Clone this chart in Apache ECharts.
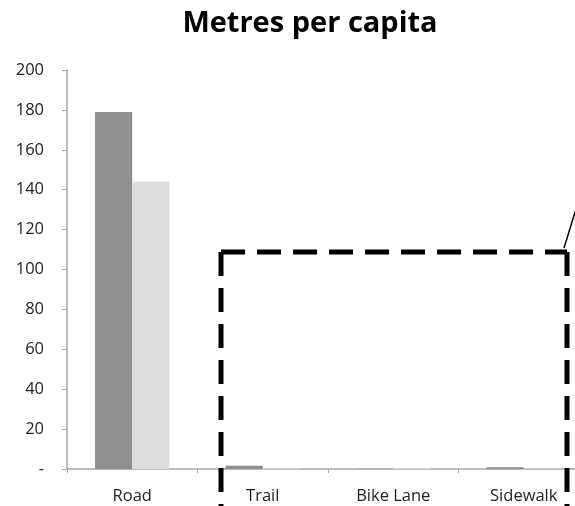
<!DOCTYPE html>
<html><head><meta charset="utf-8">
<script src="https://cdn.jsdelivr.net/npm/echarts@6/dist/echarts.min.js"></script>
<style>html,body{margin:0;padding:0;background:#fff}#c{width:575px;height:506px}</style>
</head><body><div id="c"></div>
<script>
const categories = ['Road', 'Trail', 'Bike Lane', 'Sidewalk'];
const seriesA = [179, 1.6, 0.1, 0.9];
const seriesB = [144, 0.4, 0.5, 0.3];
const yTicks = [0, 20, 40, 60, 80, 100, 120, 140, 160, 180, 200];

const chart = echarts.init(document.getElementById('c'));
const dash = { stroke: '#000', lineWidth: 5, lineDash: [24, 12] };
chart.setOption({
  animation: false,
  title: { text: 'Metres per capita', left: 305, top: 4, textAlign: 'center',
    textStyle: { fontFamily: 'Open Sans', fontWeight: 'bold', fontSize: 29, color: '#000' } },
  grid: { left: 67, width: 522, top: 70, bottom: 37, containLabel: false, outerBoundsMode: 'none' },
  xAxis: { type: 'category', data: categories,
    axisLine: { lineStyle: { color: '#a6a6a6', width: 1.5 } },
    axisTick: { show: true, length: 4, lineStyle: { color: '#a6a6a6' } },
    axisLabel: { color: '#222', fontFamily: 'Open Sans', fontSize: 16.5, margin: 19 } },
  yAxis: { type: 'value', min: 0, max: 200, interval: 20,
    splitLine: { show: false },
    axisLine: { show: true, lineStyle: { color: '#a6a6a6', width: 1.5 } },
    axisTick: { show: true, length: 5, lineStyle: { color: '#a6a6a6' } },
    axisLabel: { color: '#222', fontFamily: 'Open Sans', fontSize: 16.5, margin: 23,
      formatter: v => yTicks.includes(v) ? (v === 0 ? '-' : String(v)) : '' } },
  series: [
    { type: 'bar', data: seriesA, itemStyle: { color: '#8f8f8f' }, barGap: '0%', barCategoryGap: '43%' },
    { type: 'bar', data: seriesB, itemStyle: { color: '#dcdcdc' } }
  ],
  graphic: [
    { type: 'line', shape: { x1: 221, y1: 252, x2: 221, y2: 520 }, style: dash, z: 100 },
    { type: 'line', shape: { x1: 221, y1: 252, x2: 567, y2: 252 }, style: dash, z: 100 },
    { type: 'line', shape: { x1: 567, y1: 252, x2: 567, y2: 520 }, style: dash, z: 100 },
    { type: 'line', shape: { x1: 564, y1: 248, x2: 576, y2: 209 }, style: { stroke: '#000', lineWidth: 1.5 }, z: 100 }
  ]
});
</script></body></html>
